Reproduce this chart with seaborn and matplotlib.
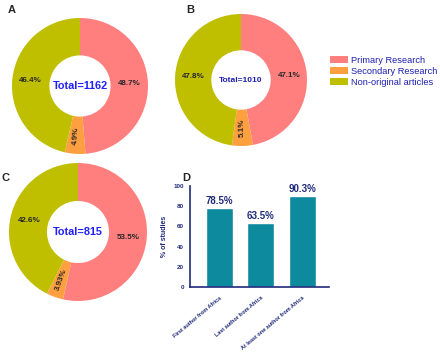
import numpy as np
import pandas as pd
import seaborn as sns
import matplotlib
matplotlib.use('Agg')
import matplotlib.pyplot as plt
from matplotlib.patches import Patch

# dados
categorias = ['Primary Research', 'Secondary Research', 'Non-original articles']
valoresA = [48.7, 4.9, 46.4]
valoresB = [47.1, 5.1, 47.8]
valoresC = [53.5, 3.93, 42.6]
rotulosA = ['48.7%', '4.9%', '46.4%']
rotulosB = ['47.1%', '5.1%', '47.8%']
rotulosC = ['53.5%', '3.93%', '42.6%']
totais = ['Total=1162', 'Total=1010', 'Total=815']

autores = ['First author from Africa', 'Last author from Africa', 'At least one author from Africa']
percAutores = [78.5, 63.5, 90.3]

cores = ['#FF7F7F', '#FFA040', '#BFBF00']
azul = '#1F2A7A'

sns.set_style('white')
plt.rcParams['font.family'] = ['Liberation Sans', 'DejaVu Sans']

W, H = 440, 359
fig = plt.figure(figsize=(W / 100, H / 100), dpi=100)


def eixo_px(x0, y0, w, h):
    return fig.add_axes([x0 / W, (H - y0 - h) / H, w / W, h / H])


def rosca(ax, valores, rotulos, total, corTotal, tamTotal):
    ax.pie(valores, colors=cores, startangle=90, counterclock=False,
           radius=1, wedgeprops=dict(width=0.55, linewidth=0))
    acum = 0
    soma = sum(valores)
    for v, r in zip(valores, rotulos):
        meio = 90 - (acum + v / 2) / soma * 360
        acum += v
        t = np.deg2rad(meio)
        rot = 0
        if v < 10:
            rot = meio + 180
        ax.text(0.73 * np.cos(t), 0.73 * np.sin(t), r, ha='center', va='center',
                fontsize=5.8, fontweight='bold', rotation=rot, rotation_mode='anchor')
    ax.text(0, 0, total, ha='center', va='center', fontsize=tamTotal,
            fontweight='bold', color=corTotal)
    ax.set_xlim(-1, 1)
    ax.set_ylim(-1, 1)
    ax.set_aspect('equal')
    ax.axis('off')


axA = eixo_px(12, 18, 136, 136)
rosca(axA, valoresA, rotulosA, totais[0], '#1F1FFF', 7.8)
axB = eixo_px(175, 14, 132, 132)
rosca(axB, valoresB, rotulosB, totais[1], '#2020B0', 6)
axC = eixo_px(9, 163, 138, 138)
rosca(axC, valoresC, rotulosC, totais[2], '#1F1FFF', 7.8)

# legenda
handles = [Patch(facecolor=c, edgecolor='none') for c in cores]
leg = fig.legend(handles, categorias, loc='upper left', bbox_to_anchor=(330 / W, 1 - 56 / H),
                 frameon=False, fontsize=6.7, handlelength=1.9, handleheight=0.8,
                 labelspacing=0.2, handletextpad=0.4, borderpad=0, borderaxespad=0)
for t in leg.get_texts():
    t.set_color('#2020B0')

# barras
axD = eixo_px(190, 186, 139, 101)
df = pd.DataFrame({'autor': autores, 'perc': percAutores})
sns.barplot(data=df, x='autor', y='perc', ax=axD, color='#0E8A9E', saturation=1,
            width=0.65)
for i, v in enumerate(percAutores):
    axD.text(i, v + 1.5, f'{v}%', ha='center', va='bottom', fontsize=7,
             fontweight='bold', color=azul)
axD.set_ylim(0, 100)
axD.set_xlim(-0.7, 2.65)
axD.set_yticks([0, 20, 40, 60, 80, 100])
axD.set_xlabel('')
axD.set_ylabel('% of studies', fontsize=5, fontweight='bold', color=azul, labelpad=4)
axD.set_xticks(range(3))
axD.set_xticklabels(autores, rotation=40, ha='right', rotation_mode='anchor',
                    fontsize=4, fontweight='bold', color=azul)
for lab in axD.get_yticklabels():
    lab.set_fontsize(4.5)
    lab.set_fontweight('bold')
    lab.set_color(azul)
axD.tick_params(axis='both', direction='out', length=3, width=1, color=azul, pad=1.5)
axD.tick_params(axis='x', pad=3)
sns.despine(ax=axD)
for s in ['left', 'bottom']:
    axD.spines[s].set_color(azul)
    axD.spines[s].set_linewidth(1.2)

# letras dos paineis
for letra, (x, y) in zip('ABCD', [(12, 10), (190, 10), (5, 178), (186, 178)]):
    fig.text(x / W, 1 - y / H, letra, ha='center', va='center', fontsize=8,
             fontweight='bold')

fig.savefig('out.png', dpi=100)
